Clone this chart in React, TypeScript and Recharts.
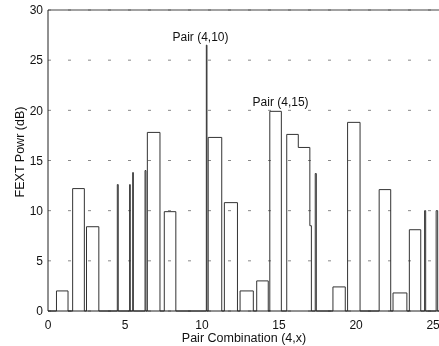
import React from "react";
import { LineChart, Line, XAxis, YAxis, CartesianGrid, ReferenceLine, ReferenceDot } from "recharts";

// Step breakpoints: pair-combination position and FEXT power (dB) from that point on
const stepX = [
  0, 0.55, 1.3, 1.6, 2.36, 2.5, 3.3, 4.5, 4.56, 5.3, 5.34, 5.5, 5.54, 6.3, 6.36, 6.45, 7.27,
  7.55, 8.3, 10.28, 10.32, 10.4, 11.28, 11.45, 12.3, 12.47, 13.33, 13.55, 14.3, 14.4, 15.15,
  15.5, 16.25, 17.0, 17.1, 17.35, 17.42, 18.5, 19.3, 19.45, 20.26, 21.5, 22.25, 22.4, 23.3,
  23.46, 24.2, 24.45, 24.52, 25.2, 25.3, 25.45,
];
const stepY = [
  0, 2.0, 0, 12.2, 0, 8.4, 0, 12.6, 0, 12.6, 0, 13.8, 0, 14.0, 0, 17.8, 0,
  9.9, 0, 26.5, 0, 17.3, 0, 10.8, 0, 2.0, 0, 3.0, 0, 19.9, 0,
  17.6, 16.3, 8.5, 0, 13.7, 0, 2.4, 0, 18.8, 0, 12.1, 0, 1.8, 0,
  8.1, 0, 10.0, 0, 10.0, 0, 0,
];
const xTicks = [0, 5, 10, 15, 20, 25];
const yTicks = [0, 5, 10, 15, 20, 25, 30];
const annotations = [
  { x: 9.9, y: 27.3, text: "Pair (4,10)" },
  { x: 15.1, y: 20.9, text: "Pair (4,15)" },
];

const data = stepX.map((x, i) => ({ x, v: stepY[i] }));

const FONT = "Arial, 'Liberation Sans', Helvetica, sans-serif";

export default function App() {
  return (
    <div style={{ position: "fixed", left: 8, top: 0 }}>
      <LineChart
        width={432}
        height={346}
        data={data}
        margin={{ top: 10, right: 0, bottom: 0, left: 0 }}
        style={{ fontFamily: FONT }}
      >
        <CartesianGrid vertical={false} stroke="#888" strokeDasharray="3 17" />
        <XAxis
          dataKey="x"
          type="number"
          domain={[0, 25.45]}
          ticks={xTicks}
          interval={0}
          allowDataOverflow
          height={35}
          tickLine={false}
          tickSize={6}
          tickMargin={3}
          axisLine={{ stroke: "#222" }}
          tick={{ fill: "#111", fontSize: 12, fontFamily: FONT }}
          label={{
            value: "Pair Combination (4,x)",
            position: "insideBottom",
            offset: 4,
            fill: "#111",
            fontSize: 12.5,
            fontFamily: FONT,
          }}
        />
        <YAxis
          type="number"
          domain={[0, 30]}
          ticks={yTicks}
          interval={0}
          width={40}
          tickLine={false}
          tickSize={3}
          tickMargin={2}
          axisLine={{ stroke: "#222" }}
          tick={{ fill: "#111", fontSize: 12, fontFamily: FONT }}
          label={{
            content: () => (
              <text
                x={12}
                y={152}
                transform="rotate(-90 12 152)"
                textAnchor="middle"
                dominantBaseline="central"
                fill="#111"
                fontSize={12.5}
                fontFamily={FONT}
              >
                FEXT Powr (dB)
              </text>
            ),
          }}
        />
        <ReferenceLine y={30} stroke="#444" />
        <Line
          dataKey="v"
          type="stepAfter"
          stroke="#333"
          strokeWidth={1}
          dot={false}
          isAnimationActive={false}
        />
        {annotations.map((a) => (
          <ReferenceDot
            key={a.text}
            x={a.x}
            y={a.y}
            r={0}
            fill="none"
            stroke="none"
            label={{ value: a.text, position: "center", fill: "#111", fontSize: 12, fontFamily: FONT }}
          />
        ))}
      </LineChart>
    </div>
  );
}
